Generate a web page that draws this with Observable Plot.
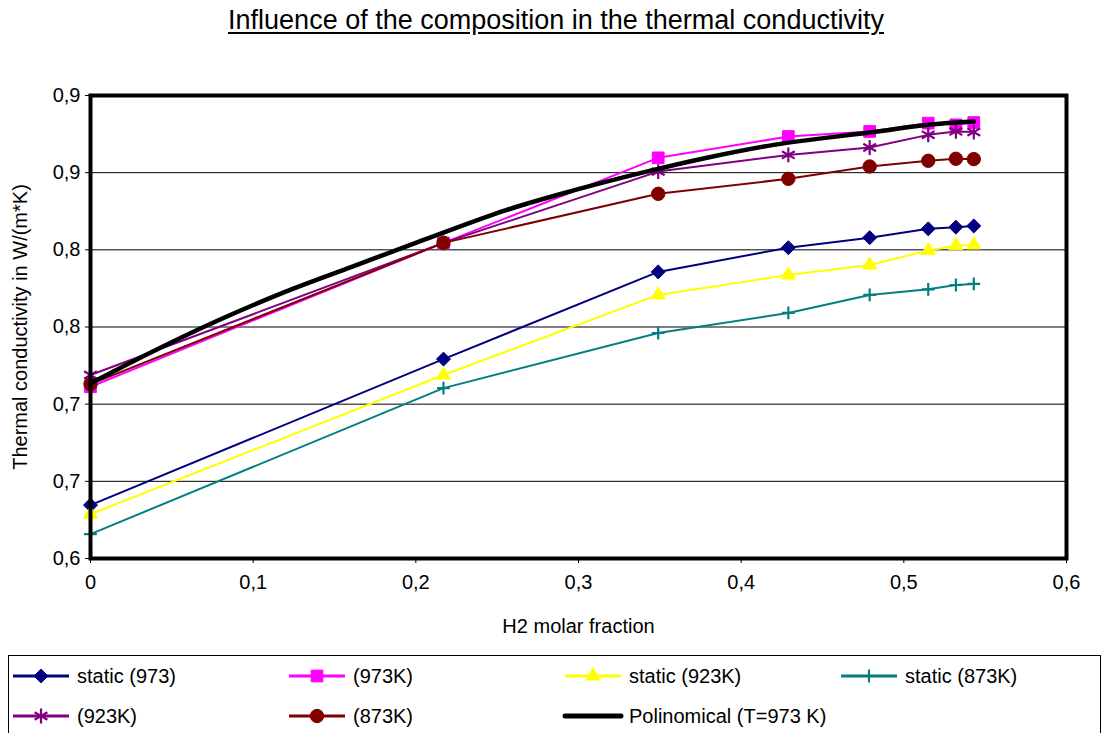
<!DOCTYPE html>
<html>
<head>
<meta charset="utf-8">
<script src="https://cdn.jsdelivr.net/npm/d3@7"></script>
<script src="https://cdn.jsdelivr.net/npm/@observablehq/plot@0.6"></script>
<style>
  html, body { margin: 0; padding: 0; background: #fff; }
  body { width: 1103px; height: 733px; overflow: hidden; font-family: "Liberation Sans", Arial, sans-serif; }
  #title { height: 50px; line-height: 40px; text-align: center; font-size: 27px; text-decoration: underline; text-underline-offset: 3px; padding-left: 9px; box-sizing: border-box; }
  #chart svg { display: block; }
  #legend { margin: 5px 0 0 8px; width: 1093px; height: 120px; box-sizing: border-box; border: 1px solid #000; display: grid; grid-template-columns: repeat(4, 276px); grid-auto-rows: 40px; }
  .item { display: flex; align-items: center; font-size: 20px; white-space: nowrap; }
  .item svg { display: block; margin-right: 4px; }
</style>
</head>
<body>
<div id="title">Influence of the composition in the thermal conductivity</div>
<div id="chart"></div>
<div id="legend"></div>
<script>
// ---------- data ----------
const xH2 = [0, 0.217, 0.349, 0.429, 0.479, 0.515, 0.532, 0.543];
const static973 = [0.6346, 0.7292, 0.7857, 0.8014, 0.8079, 0.8136, 0.8147, 0.8155];
const k973      = [0.7113, 0.8045, 0.8596, 0.8734, 0.8767, 0.8821, 0.8810, 0.8825];
const static923 = [0.6287, 0.7189, 0.7708, 0.7837, 0.7902, 0.7995, 0.8027, 0.8032];
const static873 = [0.6158, 0.7104, 0.7461, 0.7591, 0.7708, 0.7744, 0.7772, 0.7779];
const k923      = [0.7189, 0.8045, 0.8507, 0.8615, 0.8663, 0.8745, 0.8767, 0.8763];
const k873      = [0.7130, 0.8045, 0.8363, 0.8460, 0.8540, 0.8577, 0.8590, 0.8588];
const polyX = [0, 0.038, 0.079, 0.12, 0.161, 0.202, 0.256, 0.297, 0.338, 0.379, 0.42, 0.479, 0.515, 0.543];
const polyY = [0.7135, 0.7340, 0.7545, 0.7729, 0.7891, 0.8053, 0.8259, 0.8385, 0.8497, 0.8597, 0.8680, 0.8760, 0.8810, 0.8831];
const seriesNames = ["static (973)", "(973K)", "static (923K)", "static (873K)", "(923K)", "(873K)", "Polinomical (T=973 K)"];
const xTicks = [0, 0.1, 0.2, 0.3, 0.4, 0.5, 0.6];
const xTickLabels = ["0", "0,1", "0,2", "0,3", "0,4", "0,5", "0,6"];
const yTicks = [0.6, 0.65, 0.7, 0.75, 0.8, 0.85, 0.9];
const yTickLabels = ["0,6", "0,7", "0,7", "0,8", "0,8", "0,9", "0,9"];
const xLabel = "H2 molar fraction";
const yLabel = "Thermal conductivity in W/(m*K)";

// ---------- styles ----------
const seriesValues = [static973, k973, static923, static873, k923, k873];
const styles = [
  {color: "#000080", symbol: "diamond2", d3sym: d3.symbolDiamond2, r: 6.3, filled: true},
  {color: "#FF00FF", symbol: "square", d3sym: d3.symbolSquare, r: 6.6, filled: true},
  {color: "#FFFF00", symbol: "triangle", d3sym: d3.symbolTriangle, r: 5.2, filled: true},
  {color: "#008080", symbol: "plus", d3sym: d3.symbolPlus, r: 4.2, filled: false},
  {color: "#800080", symbol: "asterisk", d3sym: d3.symbolAsterisk, r: 7, filled: false},
  {color: "#800000", symbol: "circle", d3sym: d3.symbolCircle, r: 6.7, filled: true}
];

const marks = [];
// grid lines
marks.push(Plot.ruleY(yTicks.slice(1, -1), {stroke: "#000", strokeWidth: 1}));
seriesValues.forEach((vals, s) => {
  const rows = xH2.map((x, i) => ({x, y: vals[i]}));
  const st = styles[s];
  marks.push(Plot.line(rows, {x: "x", y: "y", stroke: st.color, strokeWidth: 2}));
  marks.push(Plot.dot(rows, {
    x: "x", y: "y", symbol: st.symbol, r: st.r,
    fill: st.filled ? st.color : "none", stroke: st.color, strokeWidth: st.filled ? 1 : 2.2
  }));
});
const polyRows = polyX.map((x, i) => ({x, y: polyY[i]}));
marks.push(Plot.line(polyRows, {x: "x", y: "y", stroke: "#000", strokeWidth: 4.5, curve: "catmull-rom"}));
marks.push(Plot.frame({stroke: "#000", strokeWidth: 4}));
marks.push(Plot.text([xLabel], {frameAnchor: "bottom", dy: 74, fontSize: 20, fill: "#000", textAnchor: "middle"}));
marks.push(Plot.text([yLabel], {frameAnchor: "left", dx: -70, rotate: -90, fontSize: 20, fill: "#000", textAnchor: "middle"}));

const chart = Plot.plot({
  width: 1103, height: 600,
  marginTop: 45, marginBottom: 92, marginLeft: 90, marginRight: 37,
  style: {fontFamily: "'Liberation Sans', Arial, sans-serif", fontSize: "20px", color: "#000", background: "#fff", overflow: "visible"},
  x: {domain: [0, 0.6], ticks: xTicks, tickFormat: d => xTickLabels[xTicks.indexOf(d)], tickSize: 5, tickPadding: 11, label: null},
  y: {domain: [0.6, 0.9], ticks: yTicks, tickFormat: d => yTickLabels[yTicks.indexOf(d)], tickSize: 5, tickPadding: 5, label: null},
  marks
});
document.getElementById("chart").appendChild(chart);

// ---------- legend ----------
const legend = d3.select("#legend");
seriesNames.forEach((name, s) => {
  const item = legend.append("div").attr("class", "item");
  const svg = item.append("svg").attr("width", 64).attr("height", 24);
  if (s < styles.length) {
    const st = styles[s];
    svg.append("line").attr("x1", 4).attr("x2", 60).attr("y1", 12).attr("y2", 12)
      .attr("stroke", st.color).attr("stroke-width", 3);
    svg.append("path").attr("transform", "translate(32,12)")
      .attr("d", d3.symbol(st.d3sym, Math.PI * st.r * st.r)())
      .attr("fill", st.filled ? st.color : "none").attr("stroke", st.color)
      .attr("stroke-width", st.filled ? 1 : 2.2);
  } else {
    svg.append("line").attr("x1", 4).attr("x2", 60).attr("y1", 12).attr("y2", 12)
      .attr("stroke", "#000").attr("stroke-width", 5).attr("stroke-linecap", "round");
  }
  item.append("span").text(name);
});
</script>
</body>
</html>
